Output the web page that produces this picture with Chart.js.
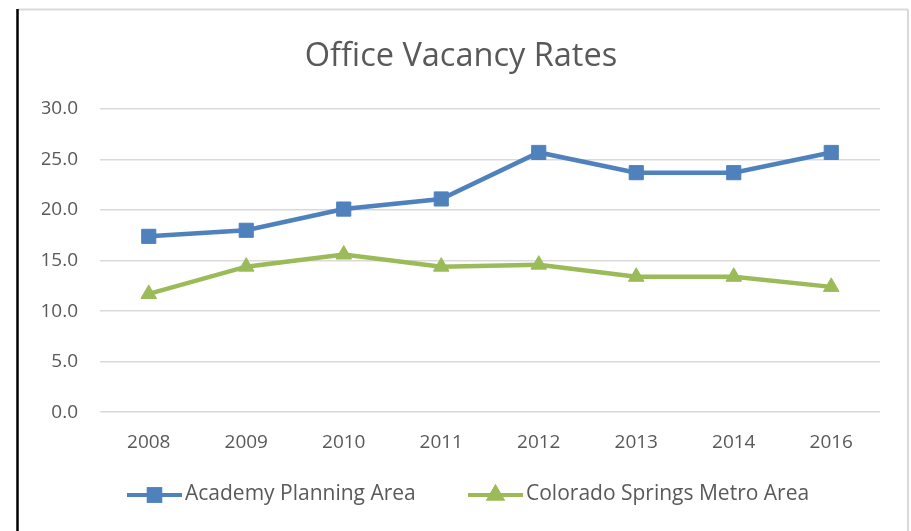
<!DOCTYPE html>
<html>
<head>
<meta charset="utf-8">
<script src="https://cdn.jsdelivr.net/npm/chart.js@4/dist/chart.umd.min.js"></script>
<style>
  html, body { margin: 0; padding: 0; background: #ffffff; }
  #wrap { position: relative; width: 911px; height: 531px; }
  canvas { display: block; }
</style>
</head>
<body>
<div id="wrap"><canvas id="c" width="911" height="531"></canvas></div>
<script>
const years = ['2008', '2009', '2010', '2011', '2012', '2013', '2014', '2016'];
const academy = [17.4, 18.0, 20.1, 21.1, 25.7, 23.7, 23.7, 25.7];
const metro = [11.7, 14.4, 15.6, 14.4, 14.6, 13.4, 13.4, 12.4];
const seriesNames = ['Academy Planning Area', 'Colorado Springs Metro Area'];
const titleText = 'Office Vacancy Rates';

const FONT = "'Open Sans', 'DejaVu Sans', sans-serif";
const TEXT = '#595959';
const BLUE = '#4F81BD';
const GREEN = '#9BBB59';

const framePlugin = {
  id: 'frame',
  beforeDraw(chart) {
    const ctx = chart.ctx;
    ctx.save();
    ctx.fillStyle = '#ffffff';
    ctx.fillRect(0, 0, chart.width, chart.height);
    ctx.strokeStyle = '#d9d9d9';
    ctx.lineWidth = 2;
    ctx.beginPath();
    ctx.moveTo(18, 9.5); ctx.lineTo(908, 9.5);
    ctx.moveTo(908, 9.5); ctx.lineTo(908, chart.height);
    ctx.stroke();
    ctx.strokeStyle = '#000000';
    ctx.lineWidth = 2.5;
    ctx.beginPath();
    ctx.moveTo(17.5, 9); ctx.lineTo(17.5, chart.height);
    ctx.stroke();
    ctx.restore();
  }
};

const legendPlugin = {
  id: 'customLegend',
  afterDraw(chart) {
    const ctx = chart.ctx;
    const starts = [127, 468];
    const y = 495;
    ctx.save();
    ctx.font = '21px ' + FONT;
    ctx.textBaseline = 'middle';
    ctx.textAlign = 'left';
    chart.data.datasets.forEach((ds, i) => {
      const x0 = starts[i];
      ctx.strokeStyle = ds.borderColor;
      ctx.lineWidth = 4;
      ctx.beginPath();
      ctx.moveTo(x0, y); ctx.lineTo(x0 + 55, y);
      ctx.stroke();
      Chart.helpers.drawPoint(ctx, {
        pointStyle: ds.pointStyle,
        radius: i === 0 ? 8 : 7,
        borderWidth: 1
      }, x0 + 27.5, y);
      ctx.fillStyle = ds.pointBackgroundColor;
      ctx.strokeStyle = ds.pointBorderColor;
      ctx.fill();
      ctx.stroke();
      ctx.fillStyle = TEXT;
      ctx.fillText(ds.label, x0 + 58, y - 1);
    });
    ctx.restore();
  }
};

new Chart(document.getElementById('c'), {
  type: 'line',
  data: {
    labels: years,
    datasets: [
      {
        label: seriesNames[0],
        data: academy,
        borderColor: BLUE,
        backgroundColor: BLUE,
        pointBackgroundColor: BLUE,
        pointBorderColor: BLUE,
        borderWidth: 4.5,
        pointStyle: 'rect',
        pointRadius: 10,
        pointBorderWidth: 1,
        tension: 0
      },
      {
        label: seriesNames[1],
        data: metro,
        borderColor: GREEN,
        backgroundColor: GREEN,
        pointBackgroundColor: GREEN,
        pointBorderColor: GREEN,
        borderWidth: 4.5,
        pointStyle: 'triangle',
        pointRadius: 9,
        pointBorderWidth: 1,
        tension: 0
      }
    ]
  },
  plugins: [framePlugin, legendPlugin],
  options: {
    responsive: false,
    animation: false,
    devicePixelRatio: 1,
    layout: { padding: { left: 42, right: 31, top: 0, bottom: 58 } },
    plugins: {
      legend: { display: false },
      tooltip: { enabled: false },
      title: {
        display: true,
        text: titleText,
        color: TEXT,
        font: { family: FONT, size: 32.5, weight: 'normal' },
        padding: { top: 37, bottom: 33 }
      }
    },
    scales: {
      x: {
        offset: true,
        grid: { display: false, drawTicks: false },
        border: { display: false },
        ticks: { color: TEXT, font: { family: FONT, size: 19 }, padding: 19, maxRotation: 0 }
      },
      y: {
        min: 0,
        max: 30,
        afterFit(scale) { scale.width = 58; },
        grid: { color: '#d9d9d9', lineWidth: 1.5, drawTicks: false },
        border: { display: false },
        ticks: {
          stepSize: 5,
          color: TEXT,
          font: { family: FONT, size: 19 },
          padding: 22,
          callback: (v) => Number(v).toFixed(1)
        }
      }
    }
  }
});
</script>
</body>
</html>
